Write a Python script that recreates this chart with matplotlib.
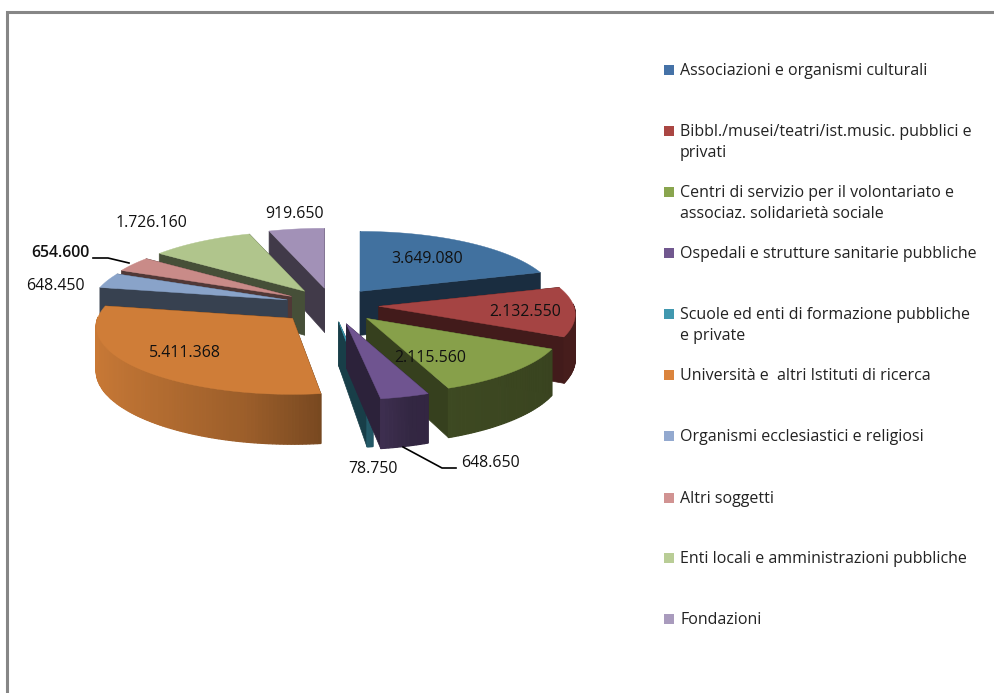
import numpy as np
import matplotlib
matplotlib.use("Agg")
import matplotlib.pyplot as plt
from matplotlib.patches import Polygon, Rectangle

# dati
categorie = ["Associazioni e organismi culturali",
             "Bibbl./musei/teatri/ist.music. pubblici e\nprivati",
             "Centri di servizio per il volontariato e\nassociaz. solidarietà sociale",
             "Ospedali e strutture sanitarie pubbliche",
             "Scuole ed enti di formazione pubbliche\ne private",
             "Università e  altri Istituti di ricerca",
             "Organismi ecclesiastici e religiosi",
             "Altri soggetti",
             "Enti locali e amministrazioni pubbliche",
             "Fondazioni"]
valori = [3649080, 2132550, 2115560, 648650, 78750, 5411368, 648450, 654600, 1726160, 919650]

# stile
colori = ["#41719f", "#a54443", "#87a04a", "#6f5490", "#3d9cb4",
          "#cf7d38", "#89a3c9", "#c98b88", "#b0c58c", "#a291b7"]
colori_legenda = ["#4572a7", "#aa4643", "#89a54e", "#71588f", "#4198af",
                  "#db843d", "#93a9cf", "#d19392", "#b9cd96", "#a99bbd"]
esplosione = [1, 1, 1.08, 1.15, 1, 1.15, 1, 1, 1, 1]
ordine = [9, 0, 8, 7, 6, 1, 5, 2, 4, 3]

# posizione etichette (pixel)
label_x = [427, 525, 430, 490, 373, 185, 55, 60, 151, 294]
label_y = [259, 312, 358, 463, 469, 353, 286, 253, 223, 214]
legenda_y = [70, 131, 192, 253, 314, 375, 436, 498, 558, 619]

# geometria torta
cx, cy = 332, 305
A, B, p = 195, 67, 0.118
ex, ey = 47, 17
prof = 44

W, H = 995, 693
fig = plt.figure(figsize=(W / 100, H / 100), dpi=100)
ax = fig.add_axes([0, 0, 1, 1])
ax.set_xlim(0, W)
ax.set_ylim(H, 0)
ax.axis("off")
plt.rcParams["font.family"] = "Open Sans"


def proietta(theta, ox, oy, z=0.0):
    # disco -> schermo con un po' di prospettiva
    X, Y = np.cos(theta), np.sin(theta)
    s = 1 / (1 + p * Y)
    return ox + A * X * s, oy - B * Y * s + z * s


def scuro(col, f):
    return tuple(np.array(matplotlib.colors.to_rgb(col)) * f)


quote = np.array(valori) / sum(valori)
fine = np.cumsum(quote)
inizio = fine - quote

for i in ordine:
    t0 = np.pi / 2 - 2 * np.pi * inizio[i]
    t1 = np.pi / 2 - 2 * np.pi * fine[i]
    tm = (t0 + t1) / 2
    ox = cx + esplosione[i] * ex * np.cos(tm)
    oy = cy - esplosione[i] * ey * np.sin(tm)
    th = np.linspace(t0, t1, max(int(abs(t1 - t0) * 60), 6))
    xs, ys = proietta(th, ox, oy)
    xb, yb = proietta(th, ox, oy, prof)

    # facce di taglio, dalla piu' lontana alla piu' vicina
    facce = []
    for k in (0, -1):
        facce.append(([ox, xs[k], xb[k], ox], [oy, ys[k], yb[k], oy + prof]))
    facce.sort(key=lambda q: np.mean(q[1]))
    for fx, fy in facce:
        c = scuro(colori[i], 0.4)
        ax.add_patch(Polygon(np.column_stack([fx, fy]), fc=c, ec=c, lw=0.5))

    # parete esterna sfumata, solo la parte davanti
    for k in range(len(th) - 1):
        if np.sin(th[k]) > 0.02 and np.sin(th[k + 1]) > 0.02:
            continue
        f = np.interp(np.cos(th[k]), [-1, -0.2, 0.1, 0.3, 1], [0.97, 0.75, 0.6, 0.46, 0.42])
        c = scuro(colori[i], f)
        ax.add_patch(Polygon([[xs[k], ys[k]], [xs[k + 1], ys[k + 1]], [xb[k + 1], yb[k + 1]], [xb[k], yb[k]]],
                             fc=c, ec=c, lw=0.9))

    # faccia superiore
    ax.add_patch(Polygon(np.column_stack([np.r_[ox, xs], np.r_[oy, ys]]), fc=colori[i], ec=colori[i], lw=0.3))

# etichette valori
for i, v in enumerate(valori):
    ax.text(label_x[i], label_y[i], f"{v:,}".replace(",", "."), ha="center", va="center",
            fontsize=11.4, color="#111111", zorder=5, fontweight="semibold" if i == 7 else "normal")

# linee guida
ax.plot([93, 108, 129], [258, 258, 263], color="black", lw=1.2, zorder=4)
ax.plot([403, 442, 456], [447, 468, 468], color="black", lw=1.2, zorder=4)

# legenda
for i, nome in enumerate(categorie):
    ax.add_patch(Rectangle((664, legenda_y[i] - 5), 10, 10, fc=colori_legenda[i], ec="none"))
    ax.text(680, legenda_y[i] - 7, nome, ha="left", va="top", fontsize=11.5, color="#222222",
            linespacing=1.42)

# bordo
ax.plot([7, 7, W], [H, 12, 12], color="#868686", lw=2.2, solid_joinstyle="miter", clip_on=False)

fig.savefig("out.png", dpi=100, facecolor="white")
